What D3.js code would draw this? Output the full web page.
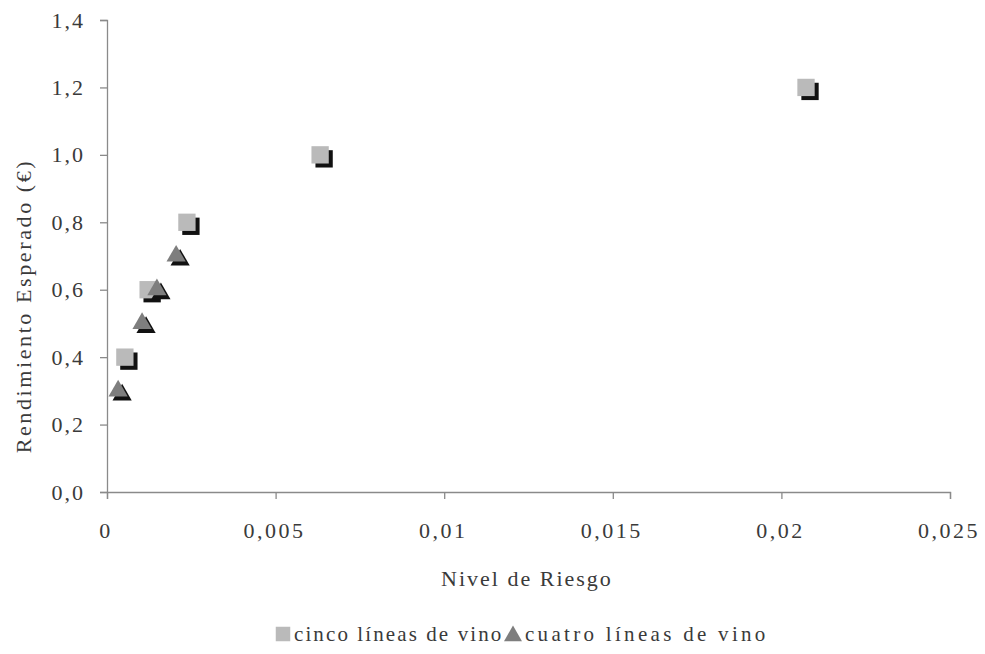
<!DOCTYPE html>
<html><head><meta charset="utf-8">
<script src="https://cdn.jsdelivr.net/npm/d3@7"></script>
<style>
body{margin:0;background:#fff;}
svg text{font-family:'Liberation Serif','DejaVu Serif',serif !important;fill:#3a3a3a;}
</style></head><body>
<svg id="c" width="985" height="654"></svg>
<script>
// Data
const xTicks = [0, 0.005, 0.01, 0.015, 0.02, 0.025];
const xTickLabels = ["0", "0,005", "0,01", "0,015", "0,02", "0,025"];
const yTicks = [0, 0.2, 0.4, 0.6, 0.8, 1.0, 1.2, 1.4];
const yTickLabels = ["0,0", "0,2", "0,4", "0,6", "0,8", "1,0", "1,2", "1,4"];
const cincoX = [0.00053, 0.00122, 0.00237, 0.00632, 0.02073];
const cincoY = [0.4, 0.6, 0.8, 1.0, 1.2];
const cuatroX = [0.00033, 0.00104, 0.00148, 0.00205];
const cuatroY = [0.3, 0.5, 0.6, 0.7];
const seriesNames = ["cinco líneas de vino", "cuatro líneas de vino"];
const xTitle = "Nivel de Riesgo";
const yTitle = "Rendimiento Esperado (€)";

const svg = d3.select("#c");
const x = d3.scaleLinear().domain([0, 0.025]).range([107, 950]);
const y = d3.scaleLinear().domain([0, 1.4]).range([492, 20]);
const axisColor = "#8a8a8a";

// axes
const xAxis = svg.append("g").attr("transform", "translate(0,492)")
  .call(d3.axisBottom(x).tickValues(xTicks).tickSize(7).tickFormat((d,i)=>xTickLabels[i]));
xAxis.attr("font-family", null);
xAxis.select(".domain").attr("stroke", axisColor).attr("stroke-width",1.3);
xAxis.selectAll(".tick line").attr("stroke", axisColor).attr("stroke-width",1.3);
xAxis.selectAll(".tick text").attr("font-size", 22).attr("dy", "1.64em").attr("letter-spacing","2.5px")
  .attr("dx", "-1.5px");

const yAxis = svg.append("g").attr("transform", "translate(107,0)")
  .call(d3.axisLeft(y).tickValues(yTicks).tickSize(7).tickFormat((d,i)=>yTickLabels[i]));
yAxis.attr("font-family", null);
yAxis.select(".domain").attr("stroke", axisColor).attr("stroke-width",1.3);
yAxis.selectAll(".tick text").attr("font-size", 22).attr("x", -22).attr("letter-spacing","2px");
yAxis.selectAll(".tick line").attr("stroke", axisColor).attr("stroke-width",1.3);

// titles
svg.append("text").attr("x", 527).attr("y", 586).attr("text-anchor","middle")
  .attr("font-size", 22).attr("letter-spacing","2px").text(xTitle);
svg.append("text").attr("transform","translate(31,306) rotate(-90)").attr("text-anchor","middle")
  .attr("font-size", 22).attr("letter-spacing","2.6px").text(yTitle);

// markers
const sq = d3.symbol().type(d3.symbolSquare).size(300);
const tri = d3.symbol().type(d3.symbolTriangle).size(160);
const off = 4;
const cinco = cincoX.map((v,i)=>({x:v,y:cincoY[i]}));
const cuatro = cuatroX.map((v,i)=>({x:v,y:cuatroY[i]}));

const g = svg.append("g");
function drawSeries(data, gen, color){
  g.selectAll(null).data(data).enter().append("path")
    .attr("d", gen).attr("fill","#111")
    .attr("transform", d=>`translate(${x(d.x)+off},${y(d.y)+off})`);
  g.selectAll(null).data(data).enter().append("path")
    .attr("d", gen).attr("fill", color)
    .attr("transform", d=>`translate(${x(d.x)},${y(d.y)})`);
}
drawSeries(cinco, sq, "#bababa");
drawSeries(cuatro, tri, "#7e7e7e");

// legend
const lg = svg.append("g");
lg.append("path").attr("d", d3.symbol().type(d3.symbolSquare).size(210)).attr("fill","#bababa")
  .attr("transform","translate(283,634)");
lg.append("text").attr("x", 294).attr("y", 641).attr("font-size", 21).attr("letter-spacing","2.1px").text(seriesNames[0]);
lg.append("path").attr("d", d3.symbol().type(d3.symbolTriangle).size(140)).attr("fill","#7e7e7e")
  .attr("transform","translate(513,636)");
lg.append("text").attr("x", 525).attr("y", 641).attr("font-size", 21).attr("letter-spacing","3.3px").text(seriesNames[1]);
</script>
</body></html>
